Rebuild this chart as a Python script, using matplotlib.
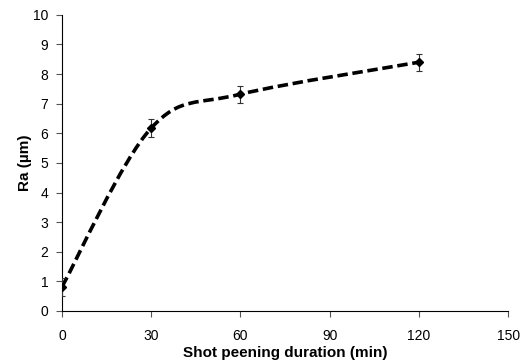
import matplotlib
matplotlib.use("Agg")
import matplotlib.pyplot as plt
from matplotlib.path import Path
from matplotlib.patches import PathPatch
import numpy as np

plt.rcParams['font.family'] = ['Liberation Sans', 'DejaVu Sans']

duration = [0, 30, 60, 120]
ra = [0.82, 6.18, 7.32, 8.40]
ra_err = [0.30, 0.30, 0.29, 0.29]
x_ticks = [0, 30, 60, 90, 120, 150]
y_ticks = list(range(0, 11))

fig = plt.figure(figsize=(5.26, 3.62), dpi=100)
ax = fig.add_axes([0.118, 0.141, 0.848, 0.818])

# Smoothed (Catmull-Rom style Bezier) dashed line through the data points
pts = np.column_stack([duration, ra]).astype(float)
verts = [tuple(pts[0])]
codes = [Path.MOVETO]
n = len(pts)
for i in range(n - 1):
    p0 = pts[i - 1] if i > 0 else pts[i]
    p1 = pts[i]
    p2 = pts[i + 1]
    p3 = pts[i + 2] if i + 2 < n else pts[i + 1]
    c1 = p1 + (p2 - p0) / 6.0
    c2 = p2 - (p3 - p1) / 6.0
    verts += [tuple(c1), tuple(c2), tuple(p2)]
    codes += [Path.CURVE4, Path.CURVE4, Path.CURVE4]
patch = PathPatch(Path(verts, codes), facecolor='none', edgecolor='black',
                  lw=2.6, linestyle=(0, (2.9, 1.3)), capstyle='butt', zorder=2)
ax.add_patch(patch)

ax.errorbar(duration, ra, yerr=ra_err, fmt='none', ecolor='#333333',
            elinewidth=0.8, capsize=2.5, capthick=0.8, zorder=3)
ax.plot(duration, ra, linestyle='none', marker='D', markersize=4.5,
        color='black', zorder=4)

ax.set_xlim(0, 150)
ax.set_ylim(0, 10)
ax.set_xticks(x_ticks)
ax.set_yticks(y_ticks)
for s in ['top', 'right']:
    ax.spines[s].set_visible(False)
for s in ['left', 'bottom']:
    ax.spines[s].set_linewidth(0.8)
ax.tick_params(axis='both', direction='out', length=4, width=0.8,
               labelsize=10, pad=6, color='#555555')
ax.tick_params(axis='x', pad=9)
ax.set_xlabel('Shot peening duration (min)', fontsize=11, fontweight='bold', labelpad=2)
ax.set_ylabel('Ra (µm)', fontsize=11, fontweight='bold', labelpad=0.5)

fig.savefig('out.png', dpi=100)
